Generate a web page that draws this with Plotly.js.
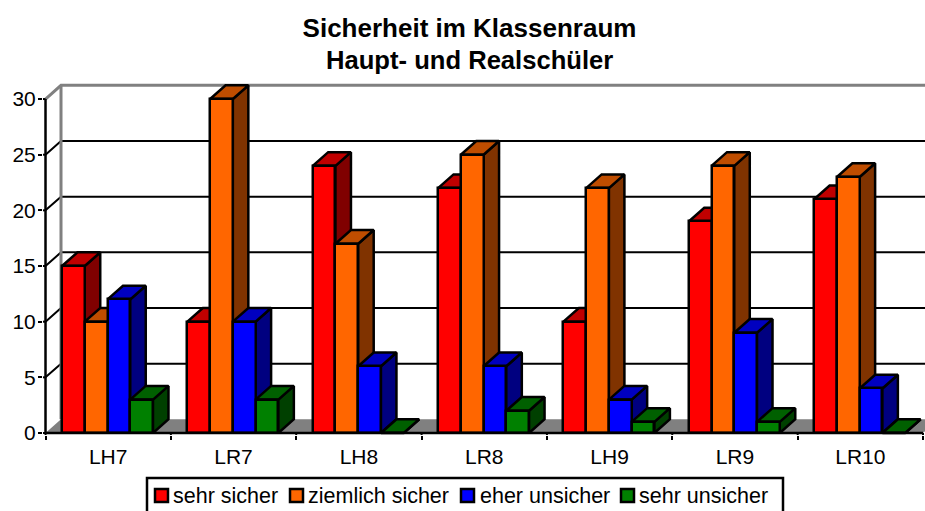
<!DOCTYPE html>
<html><head><meta charset="utf-8">
<script src="https://cdn.plot.ly/plotly-3.0.1.min.js"></script>
<style>html,body{margin:0;padding:0;background:#fff;overflow:hidden}</style>
</head><body><div id="chart" style="width:925px;height:511px"></div>
<script>
const categories = ["LH7","LR7","LH8","LR8","LH9","LR9","LR10"];
const sehrSicher = [15,10,24,22,10,19,21];
const ziemlichSicher = [10,30,17,25,22,24,23];
const eherUnsicher = [12,10,6,6,3,9,4];
const sehrUnsicher = [3,3,0,2,1,1,0];
const seriesNames = ["sehr sicher","ziemlich sicher","eher unsicher","sehr unsicher"];
const frontColors = ["#FF0000","#FF6600","#0000FF","#008000"];
const topColors = ["#C00000","#BF4D00","#0000C0","#006000"];
const sideColors = ["#800000","#803300","#000080","#004000"];
const gridValues = [0,5,10,15,20,25,30];

const W=925,H=511,L=43,R=925,T=80,B=435;
const FONT='"Liberation Sans", Arial, sans-serif';
const depthX=0.1236, depthY=1.23, barW=0.1815, firstOff=-0.3685;
const xLeft=-0.5, xRightEnd=6.5;          // category band limits
const xMin=-0.52, xMax=6.516, yMin=-0.18, yMax=31.71; // drawing window
const allSeries=[sehrSicher,ziemlichSicher,eherUnsicher,sehrUnsicher];
const idx=categories.map((_,i)=>i);
const bounds=[-0.5,0.5,1.5,2.5,3.5,4.5,5.5,6.5];
const outline=2.5;
const traces=[];

function line(x,y,color,width,z){
  traces.push({type:'scatter',mode:'lines',x,y,line:{color,width},hoverinfo:'skip',
    showlegend:false,zorder:z});
}
// floor
traces.push({type:'scatter',mode:'lines',fill:'toself',fillcolor:'#808080',line:{width:0,color:'#808080'},
  x:[xLeft,xLeft+depthX,xRightEnd+depthX,xRightEnd,xLeft],y:[0,depthY,depthY,0,0],
  hoverinfo:'skip',showlegend:false,zorder:0});
// wall gridlines
gridValues.forEach(v=>{
  if(v===0) return;
  const c=v===30?'#808080':'#000000', w=v===30?3:2;
  line([xLeft,xLeft+depthX,xRightEnd+depthX],[v,v+depthY,v+depthY],c,w,0);
});
line([xLeft+depthX,xLeft+depthX],[depthY,30+depthY],'#808080',3,0);
// tick stubs inside the window, joined to the drawn axis lines
gridValues.forEach(v=>line([xMin,xLeft],[v,v],'#000',2,0));

allSeries.forEach((vals,s)=>{
  const off=firstOff+s*barW;
  const top={x:[],y:[]},side={x:[],y:[]};
  vals.forEach((v,i)=>{
    const a=i+off,b=a+barW;
    top.x.push(a,a+depthX,b+depthX,b,a,null);
    top.y.push(v,v+depthY,v+depthY,v,v,null);
    side.x.push(b,b+depthX,b+depthX,b,b,null);
    side.y.push(0,depthY,v+depthY,v,0,null);
  });
  const z=1+s*2;
  traces.push({type:'scatter',mode:'lines',fill:'toself',fillcolor:sideColors[s],x:side.x,y:side.y,
    line:{color:'#000',width:outline},hoverinfo:'skip',showlegend:false,zorder:z});
  traces.push({type:'scatter',mode:'lines',fill:'toself',fillcolor:topColors[s],x:top.x,y:top.y,
    line:{color:'#000',width:outline},hoverinfo:'skip',showlegend:false,zorder:z});
  traces.push({type:'bar',name:seriesNames[s],x:idx,y:vals,width:barW,offset:off,
    marker:{color:frontColors[s],line:{color:'#000',width:outline}},
    showlegend:false,zorder:z+1});
});
// axis lines and tick stubs on top of everything
line([xLeft,xLeft],[0,30],'#000',outline,20);
line([xLeft,xRightEnd],[0,0],'#000',outline,20);
bounds.forEach(b=>line([b,b],[yMin,0],'#000',2,20));

const pxX=x=>(x-L)/(R-L), pxY=y=>(B-y)/(B-T);
const shapes=[{type:'rect',xref:'paper',yref:'paper',x0:pxX(147),x1:pxX(783),
  y0:pxY(478),y1:pxY(540),fillcolor:'#fff',line:{color:'#000',width:2.5},layer:'above'}];
const swatchX=[155,290,461,621], textX=[174,309,481,640];
const annotations=[{xref:'paper',yref:'paper',x:pxX(469.5),y:pxY(60),text:'<b>Haupt- und Realschüler</b>',
  showarrow:false,xanchor:'center',yanchor:'middle',font:{family:FONT,size:25.6,color:'#000'}}];
seriesNames.forEach((n,i)=>{
  shapes.push({type:'rect',xref:'paper',yref:'paper',
    x0:pxX(swatchX[i]),x1:pxX(swatchX[i]+13),y0:pxY(489),y1:pxY(502),
    fillcolor:frontColors[i],line:{color:'#000',width:2.5},layer:'above'});
  annotations.push({xref:'paper',yref:'paper',x:pxX(textX[i]),y:pxY(496),text:n,showarrow:false,
    xanchor:'left',yanchor:'middle',xshift:-3,font:{family:FONT,size:21.5,color:'#000'}});
});

const layout={
  width:W,height:H,paper_bgcolor:'#fff',plot_bgcolor:'#fff',showlegend:false,
  margin:{l:L,r:W-R,t:T,b:H-B,pad:0},
  font:{family:FONT,size:21,color:'#000'},
  title:{text:'<b>Sicherheit im Klassenraum</b>',x:469.5/W,xanchor:'center',xref:'container',
    y:1-28/H,yanchor:'middle',yref:'container',font:{family:FONT,size:26,color:'#000'}},
  xaxis:{type:'linear',range:[xMin,xMax],tickmode:'array',tickvals:idx,ticktext:categories,ticks:'',
    showgrid:false,zeroline:false,showline:false,ticklabelstandoff:7,tickfont:{family:FONT,size:21,color:'#000'},
    minor:{tickmode:'array',tickvals:bounds,ticks:'outside',ticklen:4,tickwidth:2,tickcolor:'#000',showgrid:false}},
  yaxis:{range:[yMin,yMax],tickmode:'array',tickvals:gridValues,ticks:'outside',ticklen:4,tickwidth:2,tickcolor:'#000',
    ticklabelstandoff:-2,showgrid:false,zeroline:false,showline:false,tickfont:{family:FONT,size:21,color:'#000'}},
  shapes,annotations,bargap:0
};
Plotly.newPlot('chart',traces,layout,{displayModeBar:false,responsive:false});
</script></body></html>
